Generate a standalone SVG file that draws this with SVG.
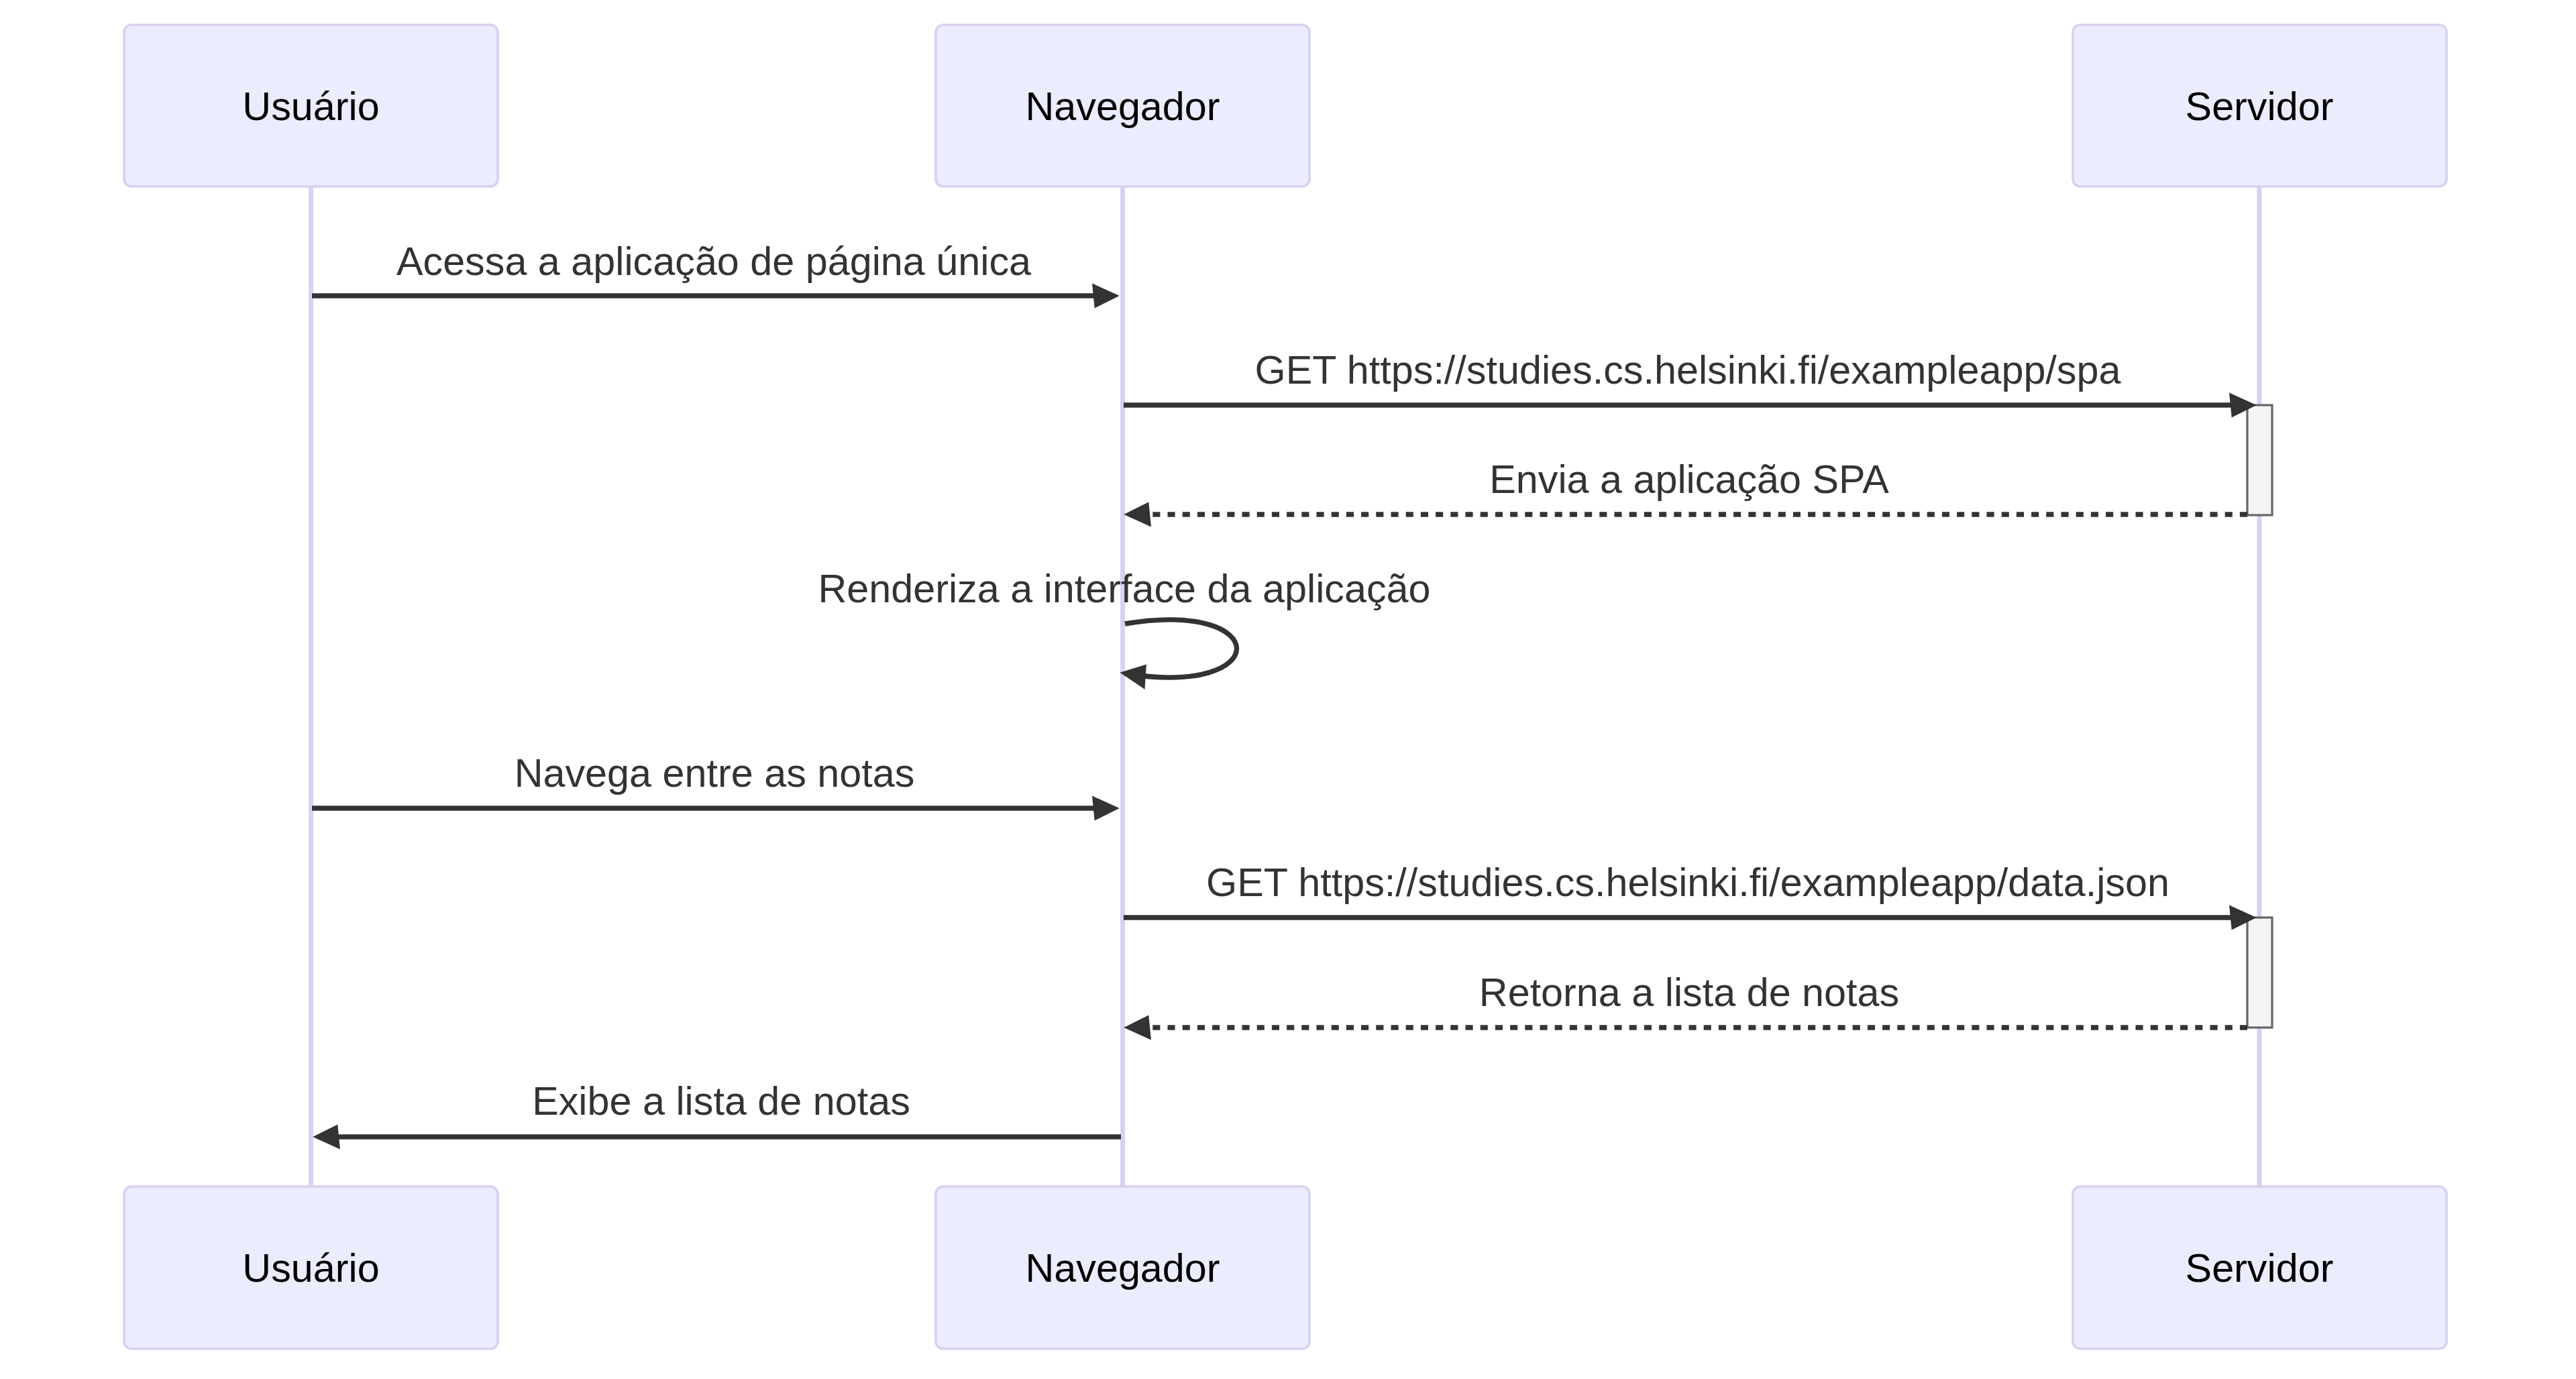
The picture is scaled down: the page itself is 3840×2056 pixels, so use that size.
<svg xmlns="http://www.w3.org/2000/svg" width="3840" height="2056" viewBox="0 0 3840 2056">
<style>
.actor{fill:#ECECFF;stroke:#DAD0F2;stroke-width:3.7}
.atext{font-family:"Liberation Sans",Arial,sans-serif;font-size:59.3px;fill:#000;text-anchor:middle}
.life{stroke:#DAD0F2;stroke-width:7}
.msg{stroke:#333;stroke-width:7.4;fill:none}
.dot{stroke-dasharray:11.1 11.1}
.mtext{font-family:"Liberation Sans",Arial,sans-serif;font-size:59.3px;fill:#333;text-anchor:middle}
.act{fill:#F4F4F4;stroke:#666;stroke-width:3.2}
</style>
<defs>
<marker id="ah" markerUnits="userSpaceOnUse" markerWidth="42" markerHeight="38" refX="33" refY="18.53" orient="auto">
<path d="M0 0 L40.76 18.53 L3.7 37.06 Z" fill="#333"/>
</marker>
</defs>
<rect width="3840" height="2056" fill="#fff"/>
<g id="lifelines">
<line class="life" x1="463.5" y1="278" x2="463.5" y2="1769"/>
<line class="life" x1="1673.5" y1="278" x2="1673.5" y2="1769"/>
<line class="life" x1="3368" y1="278" x2="3368" y2="1769"/>
</g>
<g id="usuario">
<rect class="actor" x="185" y="37" width="557" height="241" rx="11"/>
<text class="atext" x="463.5" y="178.5">Usuário</text>
</g>
<g id="navegador">
<rect class="actor" x="1395" y="37" width="557" height="241" rx="11"/>
<text class="atext" x="1673.5" y="178.5">Navegador</text>
</g>
<g id="servidor">
<rect class="actor" x="3090" y="37" width="557" height="241" rx="11"/>
<text class="atext" x="3368" y="178.5">Servidor</text>
</g>
<g id="usuario-bottom">
<rect class="actor" x="185" y="1769" width="557" height="242" rx="11"/>
<text class="atext" x="463.5" y="1911">Usuário</text>
</g>
<g id="navegador-bottom">
<rect class="actor" x="1395" y="1769" width="557" height="242" rx="11"/>
<text class="atext" x="1673.5" y="1911">Navegador</text>
</g>
<g id="servidor-bottom">
<rect class="actor" x="3090" y="1769" width="557" height="242" rx="11"/>
<text class="atext" x="3368" y="1911">Servidor</text>
</g>
<g id="activations">
<rect class="act" x="3350" y="604" width="37" height="164"/>
<rect class="act" x="3350" y="1368" width="37" height="164"/>
</g>
<g id="connectors">
<text class="mtext" x="1064" y="410">Acessa a aplicação de página única</text>
<line class="msg" x1="465" y1="441" x2="1661" y2="441" marker-end="url(#ah)"/>
<text class="mtext" x="2516" y="572">GET https://studies.cs.helsinki.fi/exampleapp/spa</text>
<line class="msg" x1="1675" y1="604" x2="3356" y2="604" marker-end="url(#ah)"/>
<text class="mtext" x="2518" y="735">Envia a aplicação SPA</text>
<line class="msg dot" x1="3350" y1="767" x2="1683" y2="767" marker-end="url(#ah)"/>
<text class="mtext" x="1676" y="898">Renderiza a interface da aplicação</text>
<path class="msg" d="M1677 930 C1899 893 1899 1041 1677 1004" marker-end="url(#ah)"/>
<text class="mtext" x="1065" y="1173">Navega entre as notas</text>
<line class="msg" x1="465" y1="1205" x2="1661" y2="1205" marker-end="url(#ah)"/>
<text class="mtext" x="2516" y="1336">GET https://studies.cs.helsinki.fi/exampleapp/data.json</text>
<line class="msg" x1="1675" y1="1368" x2="3356" y2="1368" marker-end="url(#ah)"/>
<text class="mtext" x="2518" y="1500">Retorna a lista de notas</text>
<line class="msg dot" x1="3350" y1="1532" x2="1683" y2="1532" marker-end="url(#ah)"/>
<text class="mtext" x="1075" y="1662">Exibe a lista de notas</text>
<line class="msg" x1="1671" y1="1695" x2="474" y2="1695" marker-end="url(#ah)"/>
</g>
</svg>
